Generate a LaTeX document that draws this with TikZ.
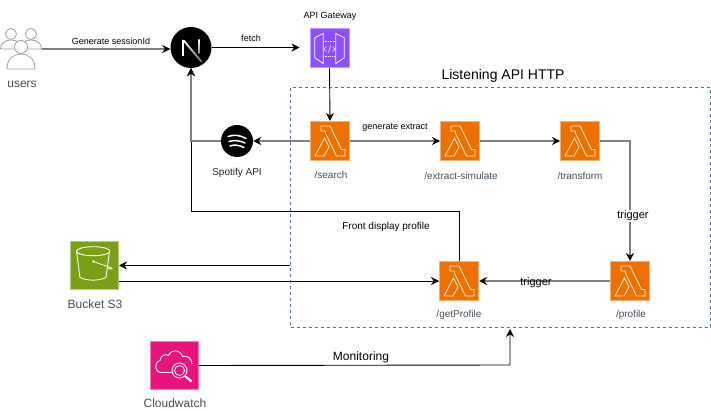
\documentclass[tikz,border=0pt]{standalone}
\usepackage{fontspec}
\setmainfont{Liberation Sans}
\usepackage{tikz}
\usetikzlibrary{arrows.meta,positioning}

\definecolor{lambdaorange}{HTML}{ED7100}
\definecolor{gatewaypurple}{HTML}{8C4FFF}
\definecolor{bucketgreen}{HTML}{7AA116}
\definecolor{watchpink}{HTML}{E7157B}
\definecolor{labelgray}{HTML}{232F3E}
\definecolor{linegray}{HTML}{7F7F7F}
\definecolor{boxblue}{HTML}{5A6C86}

\tikzset{
    iconbox/.style={draw=#1!55!white,fill=#1,line width=1pt,inner sep=0pt,minimum size=39pt},
    bigbox/.style={draw=#1!55!white,fill=#1,line width=1pt,inner sep=0pt,minimum size=48pt},
    logo/.style={circle,fill=black,inner sep=0pt},
    caption/.style={text=labelgray!85!white,inner sep=0pt,font=\fontsize{10}{12}\selectfont},
    bigcaption/.style={text=labelgray!85!white,inner sep=0pt,font=\fontsize{12}{14}\selectfont},
    linklabel/.style={inner sep=0pt,font=\fontsize{9}{11}\selectfont},
    triggerlabel/.style={inner sep=1pt,font=\fontsize{11}{13}\selectfont},
    graylink/.style={draw=linegray,line width=1.6pt,-{Stealth[black,length=8pt,width=8pt]}},
    blacklink/.style={draw=black,line width=0.9pt,-{Stealth[black,length=8pt,width=8pt]}},
    lambdaicon/.pic={
        \draw[white!85!orange,line width=0.8pt,line join=miter]
            (-9,-15) -- (0,-15) -- (11.5,8.5) -- (15,8.5) -- (15,15) -- (6.5,15)
            -- (-4,-6.5) -- (-5,-10) -- (-9,-10) -- cycle
            (-15,15) -- (-5.5,-3) -- (-1,6) -- (-6,15) -- cycle;
    },
    gatewayicon/.pic={
        \draw[white,line width=0.8pt]
            (-14.7,-10.7) -- (-6.3,-15) -- (-6.3,15) -- (-14.7,9.3) -- cycle
            (14.7,-10.7) -- (6.3,-15) -- (6.3,15) -- (14.7,9.3) -- cycle;
        \draw[white,line width=0.6pt,densely dotted] (-6.3,-7.5) -- (6.3,-7.5);
        \draw[white,line width=1.2pt,densely dotted] (-6.3,8) -- (6.3,8);
        \draw[white,line width=0.6pt]
            (-3,-2) -- (-5.5,0.5) -- (-3,3) (3,-2) -- (5.5,0.5) -- (3,3) (1,-3) -- (-1,4);
    },
    bucketicon/.pic={
        \draw[white,line width=0.9pt]
            (-1.3,-14.3) ellipse [x radius=16.7,y radius=4.5]
            (-18,-14.3) -- (-14.5,12) .. controls (-8,15.5) and (5,15.5) .. (11.5,12) -- (15,-14.3);
        \draw[white,line width=0.8pt] (-1,-4) -- (17,2.5);
        \fill[white] (-1,-4) circle (1.3);
        \draw[white,line width=0.7pt] (17,2.5) .. controls (19,3.5) and (16,4.5) .. (13,2.5);
    },
    cloudicon/.pic={
        \draw[white,line width=0.9pt]
            (-3,7) -- (-13,7) .. controls (-20,7) and (-21,-3) .. (-14.5,-5)
            .. controls (-14,-11) and (-8,-11.5) .. (-6,-10)
            .. controls (-3,-17) and (6,-16) .. (8,-9)
            .. controls (13,-11) and (18,-6) .. (17.5,-1);
        \draw[white,line width=0.9pt] (5,5) circle (7.5);
        \draw[white,line width=0.8pt] (5,5) circle (5);
        \draw[white,line width=2pt] (10.5,10.5) -- (17,16);
    },
    nexticon/.pic={
        \draw[white,line width=1.3pt] (-8,8.5) -- (-8,-7.5);
        \shade[top color=white,bottom color=black!60] (-9,-7.5) -- (-6.5,-7.5) -- (11.5,14) -- (10,15) -- cycle;
        \shade[top color=white,bottom color=black!50] (7.3,-7.5) -- (8.7,-7.5) -- (8.7,6) -- (7.3,6) -- cycle;
    },
    spotifyicon/.pic={
        \draw[white,line width=1.5pt,line cap=round]
            (-9,-4.5) .. controls (-3,-6.5) and (3,-6) .. (9,-2.5)
            (-8,0.5) .. controls (-3,-1) and (3,-0.5) .. (8,2)
            (-7,5) .. controls (-3,3.5) and (2,4) .. (7,6.5);
    },
    personicon/.pic={
        \draw[black!38,line width=0.8pt,fill=white] (0,0) circle (6.5);
        \draw[black!38,line width=0.8pt,fill=white] (-14,22) .. controls (-14,11) and (-7,7) .. (0,7)
            .. controls (7,7) and (14,11) .. (14,22) -- cycle;
    },
    backpersonicon/.pic={
        \draw[black!38,line width=0.8pt,fill=white] (0,0) circle (5.5);
        \draw[black!38,line width=0.8pt,fill=white] (-10.5,15) .. controls (-10.5,9) and (-6,6) .. (0,6)
            .. controls (6,6) and (10.5,9) .. (10.5,15) -- cycle;
    }
}

\begin{document}
\begin{tikzpicture}[x=1pt,y=-1pt]
    \useasboundingbox (0,0) rectangle (711,411);

    \node[draw=boxblue,dashed,line width=0.6pt,minimum width=420pt,minimum height=239.5pt,inner sep=0pt] (listening) at (500.5,207.5) {};
    \node[inner sep=0pt,font=\fontsize{14}{16}\selectfont] (listeningtitle) at (503,76) {Listening API HTTP};

    \node[inner sep=0pt,minimum width=42pt,minimum height=40pt] (users) at (21,49) {};
    \node[bigcaption] (userslabel) at (22,84) {users};
    \node[logo,minimum size=41pt] (next) at (191,47.5) {};
    \node[iconbox=gatewaypurple] (gateway) at (329.5,48.5) {};
    \node[inner sep=0pt,font=\fontsize{9}{11}\selectfont] (gatewaylabel) at (330,16) {API Gateway};
    \node[logo,minimum size=32pt] (spotify) at (237,141) {};
    \node[caption,text=black!85] (spotifylabel) at (237,173) {Spotify API};

    \node[iconbox=lambdaorange] (search) at (330,141) {};
    \node[caption] (searchlabel) at (331,175) {/search};
    \node[iconbox=lambdaorange] (extract) at (460,141) {};
    \node[caption] (extractlabel) at (461,176) {/extract-simulate};
    \node[iconbox=lambdaorange] (transform) at (580,141) {};
    \node[caption] (transformlabel) at (580,176) {/transform};
    \node[iconbox=lambdaorange] (profile) at (630,281) {};
    \node[caption] (profilelabel) at (631,315) {/profile};
    \node[iconbox=lambdaorange] (getprofile) at (459,281) {};
    \node[caption] (getprofilelabel) at (459,315) {/getProfile};

    \node[bigbox=bucketgreen] (bucket) at (94.5,265.5) {};
    \node[bigcaption] (bucketlabel) at (95,304) {Bucket S3};
    \node[bigbox=watchpink] (cloudwatch) at (174.5,365.5) {};
    \node[bigcaption] (cloudwatchlabel) at (175,403) {Cloudwatch};

    \pic at (next) {nexticon};
    \pic at (gateway) {gatewayicon};
    \pic at (spotify) {spotifyicon};
    \pic at (search) {lambdaicon};
    \pic at (extract) {lambdaicon};
    \pic at (transform) {lambdaicon};
    \pic at (profile) {lambdaicon};
    \pic at (getprofile) {lambdaicon};
    \pic at (bucket) {bucketicon};
    \pic at (cloudwatch) {cloudicon};
    \pic at (11,34) {backpersonicon};
    \pic at (31,34) {backpersonicon};
    \pic at (21,47) {personicon};

    \coordinate (bucketout) at (119,281);
    \coordinate (monitorbend) at (510,365);
    \coordinate (monitorend) at (510,329);

    \draw[blacklink] (getprofile.north) |- (next.south |- 0,211) -- (next.south);
    \draw[graylink] (users.east) -- (next.west |- users.east);
    \draw[blacklink,shorten >=10pt] (next.east) -- (gateway.west |- next.east);
    \draw[blacklink] (gateway.south) -- (search.north);
    \draw[graylink] (search.west) -- (spotify.east);
    \draw[graylink] (spotify.west) -| (next.south);
    \draw[graylink] (search.east) -- (extract.west);
    \draw[graylink] (extract.east) -- (transform.west);
    \draw[graylink] (transform.east) -| (profile.north);
    \draw[graylink] (profile.west) -- (getprofile.east);
    \draw[blacklink] (bucketout) -- (getprofile.west);
    \draw[blacklink] (listening.west |- bucket.east) -- (bucket.east);
    \draw[blacklink] (cloudwatch.east) -- (monitorbend) -- (monitorend);

    \node[linklabel] (generatelabel) at (111,41) {Generate sessionId};
    \node[linklabel] (fetchlabel) at (251,38) {fetch};
    \node[linklabel] (extractlink) at (395,128) {generate extract};
    \node[linklabel,font=\fontsize{10}{12}\selectfont] (frontlabel) at (386,227) {Front display profile};
    \node[triggerlabel,fill=white] (triggerdown) at (633,216) {trigger};
    \node[triggerlabel] (triggerleft) at (536,283) {trigger};
    \node[inner sep=0pt,font=\fontsize{12}{14}\selectfont] (monitorlabel) at (361,357) {Monitoring};
\end{tikzpicture}
\end{document}
